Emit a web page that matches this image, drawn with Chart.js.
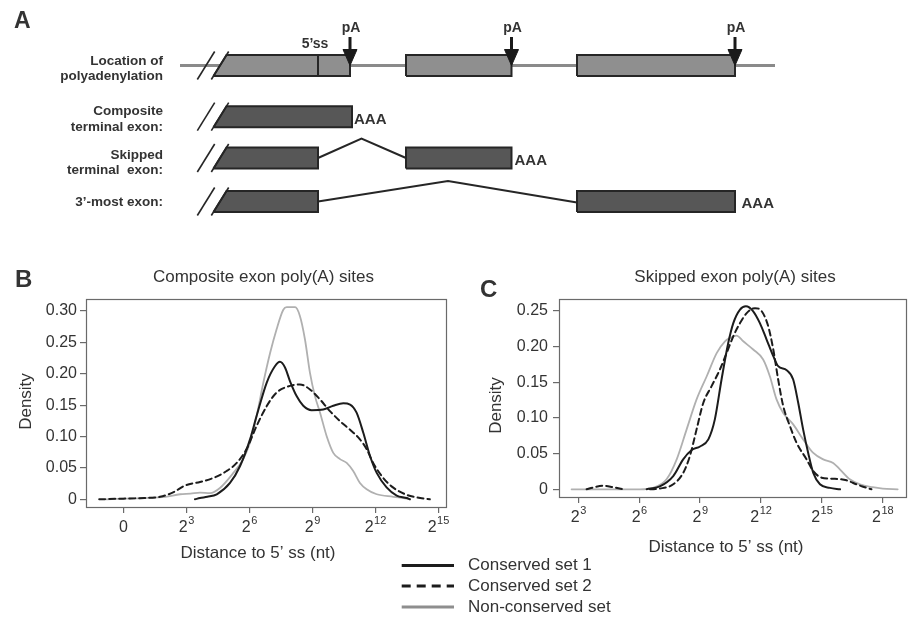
<!DOCTYPE html>
<html><head><meta charset="utf-8">
<script src="https://cdn.jsdelivr.net/npm/chart.js@4.4.1/dist/chart.umd.min.js"></script>
<style>
html,body{margin:0;padding:0;background:#fff;}
#wrap{position:relative;width:914px;height:617px;overflow:hidden;background:#fff;}
canvas{position:absolute;}
</style></head><body>
<div id="wrap">
<canvas id="cA" width="914" height="240" style="left:0;top:0"></canvas>
<canvas id="cB" width="460" height="367" style="left:0;top:250px"></canvas>
<canvas id="cC" width="534" height="367" style="left:380px;top:250px"></canvas>
</div>
<script>
const FONT = '"Liberation Sans", Arial, Helvetica, sans-serif';
const TEXT = '#333333';
const INK = '#262626';
const AXIS = '#6a6a6a';

// ---------------- Panel A: schematic (diagram units) ----------------
const rowCenters = [65.5, 116.7, 158, 201.5];
const intronExtent = [180, 775];
const locationExons = [[213.5, 350], [406, 511.5], [577, 735]];
const compositeExons = [[213.5, 352]];
const skippedExons = [[213.5, 318], [406, 511.5]];
const mostExons = [[213.5, 318], [577, 735]];
const spliceSite5 = 318;
const pASites = [350, 511.5, 735];
const pAArrowLevels = [37, 49.5, 65.5];
const skippedJunction = [[318, 158], [361.5, 138.5], [406, 158]];
const mostJunction = [[318, 201.5], [448, 181], [577, 202.5]];
const rowLabels = [['Location of', 'polyadenylation'], ['Composite', 'terminal exon:'], ['Skipped', 'terminal  exon:'], ['3\u2019-most exon:']];
const rowLabelBaselines = [[64.5, 79.5], [114.5, 130.5], [158.5, 174], [206]];
const polyATail = [[354, 124], [514.5, 165], [741.5, 208.3]];

// ---------------- Panel B: composite exon poly(A) sites ----------------
const seriesNames = ['Conserved set 1', 'Conserved set 2', 'Non-conserved set'];
const compSet1X = [3.41, 3.65, 4.0, 4.45, 5.08, 5.56, 6.03, 6.35, 6.83, 7.22, 7.46, 7.7, 7.94, 8.26, 8.57, 8.97, 9.52, 10.0, 10.48, 10.8, 11.11, 11.43, 11.75, 12.07, 12.54, 13.02, 13.5, 13.65];
const compSet1Y = [0, 0.002, 0.004, 0.008, 0.026, 0.053, 0.095, 0.133, 0.186, 0.212, 0.219, 0.21, 0.188, 0.164, 0.149, 0.142, 0.143, 0.149, 0.153, 0.151, 0.138, 0.106, 0.069, 0.042, 0.019, 0.006, 0.002, 0];
const compSet2X = [-1.15, 0, 1.0, 1.75, 2.37, 2.94, 3.65, 4.29, 4.92, 5.4, 5.87, 6.35, 6.83, 7.3, 7.78, 8.41, 8.89, 9.37, 9.84, 10.32, 10.79, 11.27, 11.59, 11.9, 12.38, 12.86, 13.5, 13.97, 14.6];
const compSet2Y = [0, 0.001, 0.002, 0.004, 0.011, 0.022, 0.0275, 0.034, 0.045, 0.058, 0.08, 0.117, 0.1485, 0.17, 0.179, 0.183, 0.175, 0.159, 0.1405, 0.1245, 0.111, 0.0955, 0.08, 0.058, 0.034, 0.0185, 0.007, 0.003, 0];
const compNonX = [-0.8, 0, 1.0, 2.0, 2.7, 3.2, 3.65, 4.13, 4.6, 5.24, 5.71, 6.03, 6.35, 6.67, 6.99, 7.3, 7.62, 7.78, 8.18, 8.41, 8.65, 8.89, 9.13, 9.37, 9.69, 10.0, 10.32, 10.64, 10.95, 11.27, 11.59, 12.07, 12.86, 13.5, 13.65];
const compNonY = [0, 0.001, 0.002, 0.004, 0.008, 0.009, 0.0105, 0.0097, 0.018, 0.042, 0.064, 0.09, 0.133, 0.186, 0.233, 0.271, 0.302, 0.306, 0.306, 0.292, 0.255, 0.2015, 0.164, 0.138, 0.10, 0.074, 0.064, 0.058, 0.045, 0.026, 0.016, 0.008, 0.004, 0.001, 0];
const compXTicks = [0, 3, 6, 9, 12, 15];
const compXTickLabels = ['0', '2^3', '2^6', '2^9', '2^12', '2^15'];
const compYTicks = [0, 0.05, 0.10, 0.15, 0.20, 0.25, 0.30];
const compYTickLabels = ['0', '0.05', '0.10', '0.15', '0.20', '0.25', '0.30'];

// ---------------- Panel C: skipped exon poly(A) sites ----------------
const skipSet1X = [6.37, 7.02, 7.68, 8.17, 8.59, 9.0, 9.41, 9.73, 10.06, 10.39, 10.64, 10.97, 11.26, 11.62, 11.95, 12.28, 12.61, 12.85, 13.27, 13.59, 13.84, 14.08, 14.33, 14.58, 14.91, 15.4, 15.9];
const skipSet1Y = [0, 0.004, 0.0185, 0.042, 0.055, 0.06, 0.07, 0.098, 0.154, 0.205, 0.233, 0.252, 0.2566, 0.2496, 0.233, 0.21, 0.1866, 0.1726, 0.167, 0.154, 0.121, 0.084, 0.051, 0.023, 0.007, 0.002, 0];
const skipSet2X = [3.41, 3.8, 4.23, 4.7, 5.2, 5.9, 6.53, 7.02, 7.68, 8.17, 8.5, 8.83, 9.16, 9.57, 9.98, 10.31, 10.64, 10.97, 11.3, 11.71, 12.04, 12.36, 12.61, 12.85, 13.1, 13.43, 13.76, 14.25, 14.58, 14.99, 15.56, 16.22, 16.71, 17.0, 17.45];
const skipSet2Y = [0, 0.003, 0.005, 0.003, 0, null, 0, 0.001, 0.007, 0.023, 0.0466, 0.084, 0.121, 0.1446, 0.168, 0.191, 0.2146, 0.233, 0.247, 0.254, 0.2496, 0.2286, 0.196, 0.154, 0.1166, 0.0886, 0.065, 0.042, 0.0256, 0.0163, 0.0148, 0.0126, 0.007, 0.004, 0];
const skipNonX = [2.67, 4, 5, 6.04, 6.69, 7.35, 7.85, 8.34, 8.83, 9.33, 9.82, 10.23, 10.47, 10.8, 11.13, 11.62, 12.11, 12.44, 12.77, 13.1, 13.59, 14.08, 14.58, 15.07, 15.56, 15.89, 16.38, 16.88, 17.5, 18.0, 18.74];
const skipNonY = [0, 0, 0, 0, 0.002, 0.014, 0.042, 0.084, 0.126, 0.1585, 0.191, 0.2075, 0.212, 0.2155, 0.2075, 0.196, 0.182, 0.1585, 0.126, 0.107, 0.091, 0.07, 0.051, 0.042, 0.037, 0.028, 0.014, 0.007, 0.003, 0.001, 0];
const skipXTicks = [3, 6, 9, 12, 15, 18];
const skipXTickLabels = ['2^3', '2^6', '2^9', '2^12', '2^15', '2^18'];
const skipYTicks = [0, 0.05, 0.10, 0.15, 0.20, 0.25];
const skipYTickLabels = ['0', '0.05', '0.10', '0.15', '0.20', '0.25'];

// ---------------- Panel A chart ----------------
const SLANT = 0.62, H = 10.5;
function pts(arr) { return arr.map(p => ({x: p[0], y: p[1]})); }
function lineDS(points, color, width, extra) {
  return Object.assign({data: pts(points), borderColor: color, backgroundColor: color, borderWidth: width,
    pointRadius: 0, fill: false, tension: 0, clip: false, borderCapStyle: 'butt', borderJoinStyle: 'miter'}, extra || {});
}
function polyDS(points, fillColor, borderColor, width) {
  return lineDS(points, borderColor, width, {fill: 'shape', backgroundColor: fillColor});
}
const dsA = [];
dsA.push(lineDS([[intronExtent[0], rowCenters[0]], [intronExtent[1], rowCenters[0]]], '#8a8a8a', 3));
const exonRows = [locationExons, compositeExons, skippedExons, mostExons];
const exonFills = ['#8f8f8f', '#575757', '#575757', '#575757'];
exonRows.forEach((exons, r) => {
  const yc = rowCenters[r], t = yc - H, b = yc + H;
  exons.forEach((e, k) => {
    const xl = k === 0 ? e[0] + 2 * H * SLANT : e[0];
    dsA.push(polyDS([[e[0], b], [xl, t], [e[1], t], [e[1], b], [e[0], b]], exonFills[r], INK, 2));
  });
  const yb = b + 3.5, yt = t - 3.5;
  const x2b = exons[0][0] - 3.5 * SLANT, x2t = x2b + (yb - yt) * SLANT;
  dsA.push(lineDS([[x2b, yb], [x2t, yt]], INK, 1.6));
  dsA.push(lineDS([[x2b - 14, yb], [x2t - 14, yt]], INK, 1.6));
});
dsA.push(lineDS([[spliceSite5, rowCenters[0] - H], [spliceSite5, rowCenters[0] + H]], INK, 2));
dsA.push(lineDS(skippedJunction, INK, 2));
dsA.push(lineDS(mostJunction, INK, 2));
pASites.forEach(x => {
  dsA.push(lineDS([[x, pAArrowLevels[0]], [x, pAArrowLevels[1] + 1.5]], '#1a1a1a', 3));
  dsA.push(polyDS([[x - 7, pAArrowLevels[1]], [x + 7, pAArrowLevels[1]], [x, pAArrowLevels[2]], [x - 7, pAArrowLevels[1]]], '#1a1a1a', '#1a1a1a', 1));
});
dsA.forEach((d, i) => { d.order = dsA.length - i; });

const panelAText = {
  id: 'panelAText',
  afterDatasetsDraw(chart) {
    const {ctx} = chart, sx = chart.scales.x, sy = chart.scales.y;
    const X = v => sx.getPixelForValue(v), Y = v => sy.getPixelForValue(v);
    ctx.save();
    ctx.fillStyle = TEXT;
    ctx.textBaseline = 'alphabetic';
    ctx.font = 'bold 13.5px ' + FONT;
    ctx.textAlign = 'right';
    rowLabels.forEach((lines, r) => lines.forEach((s, j) => ctx.fillText(s, X(163), Y(rowLabelBaselines[r][j]))));
    ctx.textAlign = 'center';
    ctx.font = 'bold 14px ' + FONT;
    ctx.fillText('5\u2019ss', X(spliceSite5 - 3), Y(48.3));
    pASites.forEach(x => ctx.fillText('pA', X(x + 1), Y(31.5)));
    ctx.textAlign = 'left';
    ctx.font = 'bold 15px ' + FONT;
    polyATail.forEach(p => ctx.fillText('AAA', X(p[0]), Y(p[1])));
    ctx.font = 'bold 23px ' + FONT;
    ctx.fillText('A', X(14), Y(28));
    ctx.restore();
  }
};

new Chart(document.getElementById('cA'), {
  type: 'line',
  data: {datasets: dsA},
  options: {
    responsive: false, animation: false, devicePixelRatio: 1,
    layout: {padding: 0},
    plugins: {legend: {display: false}, tooltip: {enabled: false}},
    elements: {point: {radius: 0}},
    scales: {
      x: {type: 'linear', min: 0, max: 914, display: false},
      y: {type: 'linear', min: 0, max: 240, reverse: true, display: false}
    }
  },
  plugins: [panelAText]
});

// ---------------- Density charts ----------------
const seriesStyles = [
  {color: '#1c1c1c', width: 2, dash: [], legendColor: '#1c1c1c'},
  {color: '#1c1c1c', width: 2, dash: [6, 4], legendColor: '#1c1c1c'},
  {color: '#b0b0b0', width: 1.8, dash: [], legendColor: '#8e8e8e'}
];
function zip(xs, ys) { return xs.map((x, i) => ({x: x, y: ys[i]})); }

function drawPowerLabel(ctx, label, cx, baseline) {
  const parts = label.split('^');
  ctx.font = '16px ' + FONT;
  const wb = ctx.measureText(parts[0]).width;
  let we = 0;
  if (parts[1]) { ctx.font = '11px ' + FONT; we = ctx.measureText(parts[1]).width; }
  const x0 = cx - (wb + we) / 2;
  ctx.textAlign = 'left'; ctx.textBaseline = 'alphabetic';
  ctx.font = '16px ' + FONT; ctx.fillText(parts[0], x0, baseline);
  if (parts[1]) { ctx.font = '11px ' + FONT; ctx.fillText(parts[1], x0 + wb + 0.5, baseline - 8); }
}

function makeDecor(d) {
  return {
    id: 'rDecor',
    afterDraw(chart) {
      const {ctx, chartArea: a} = chart, sx = chart.scales.x;
      ctx.save();
      ctx.strokeStyle = AXIS; ctx.lineWidth = 1.2;
      ctx.strokeRect(a.left + 0.5, a.top + 0.5, a.width, a.height);
      ctx.fillStyle = TEXT;
      d.xTicks.forEach((v, i) => drawPowerLabel(ctx, d.xLabels[i], sx.getPixelForValue(v), a.bottom + 24.7));
      ctx.font = '17px ' + FONT; ctx.textAlign = 'center'; ctx.textBaseline = 'middle';
      ctx.fillText(d.title, d.titleX, a.top - 22);
      ctx.fillText('Distance to 5\u2019 ss (nt)', d.xTitleX, a.bottom + d.xTitleDy);
      ctx.save();
      ctx.translate(d.yTitleX, (a.top + a.bottom) / 2 + d.yTitleDy);
      ctx.rotate(-Math.PI / 2);
      ctx.fillText('Density', 0, 0);
      ctx.restore();
      ctx.font = 'bold 24px ' + FONT; ctx.textAlign = 'left'; ctx.textBaseline = 'alphabetic';
      ctx.fillText(d.letter, d.letterX, d.letterY);
      if (d.legend) {
        chart.data.datasets.forEach((ds, i) => {
          const y = d.legend.y[i];
          ctx.save();
          ctx.strokeStyle = seriesStyles[i].legendColor; ctx.lineWidth = 3;
          ctx.setLineDash(ds.borderDash && ds.borderDash.length ? [9, 6] : []);
          ctx.beginPath(); ctx.moveTo(d.legend.x0, y); ctx.lineTo(d.legend.x1, y); ctx.stroke();
          ctx.restore();
          ctx.fillStyle = TEXT; ctx.font = '17px ' + FONT; ctx.textBaseline = 'middle';
          ctx.fillText(ds.label, d.legend.tx, y);
        });
      }
      ctx.restore();
    }
  };
}

function densityChart(id, series, xr, yr, xTicks, yTicks, yLabels, lay, decor) {
  return new Chart(document.getElementById(id), {
    type: 'line',
    data: {datasets: series.map((s, i) => ({
      label: seriesNames[i], data: s,
      borderColor: seriesStyles[i].color, borderWidth: seriesStyles[i].width, borderDash: seriesStyles[i].dash,
      pointRadius: 0, fill: false, cubicInterpolationMode: 'monotone', spanGaps: false,
      borderCapStyle: 'round', borderJoinStyle: 'round'
    }))},
    options: {
      responsive: false, animation: false, devicePixelRatio: 1,
      layout: {padding: {top: lay.top, right: lay.right, left: 0, bottom: 0}},
      plugins: {legend: {display: false}, tooltip: {enabled: false}, title: {display: false}},
      elements: {point: {radius: 0}},
      scales: {
        x: {type: 'linear', min: xr[0], max: xr[1],
          afterBuildTicks: s => { s.ticks = xTicks.map(v => ({value: v})); },
          afterFit: s => { s.height = lay.xh; },
          grid: {display: true, drawOnChartArea: false, drawTicks: true, tickLength: 6, color: AXIS, tickColor: AXIS, lineWidth: 1.2},
          border: {display: false}, ticks: {display: false}},
        y: {type: 'linear', min: yr[0], max: yr[1],
          afterBuildTicks: s => { s.ticks = yTicks.map(v => ({value: v})); },
          afterFit: s => { s.width = lay.yw; },
          grid: {display: true, drawOnChartArea: false, drawTicks: true, tickLength: 6, color: AXIS, tickColor: AXIS, lineWidth: 1.2},
          border: {display: false},
          ticks: {display: true, font: {family: FONT, size: 16}, color: TEXT, padding: lay.ypad,
            callback: (v, i) => yLabels[i]}}
      }
    },
    plugins: [makeDecor(decor)]
  });
}

densityChart('cB',
  [zip(compSet1X, compSet1Y), zip(compSet2X, compSet2Y), zip(compNonX, compNonY)],
  [-1.78, 15.37], [-0.0123, 0.3191], compXTicks, compYTicks, compYTickLabels,
  {top: 49, right: 14, xh: 110, yw: 86, ypad: 3},
  {xTicks: compXTicks, xLabels: compXTickLabels, title: 'Composite exon poly(A) sites', titleX: 263.5,
   xTitleX: 258, xTitleDy: 46, yTitleX: 26, yTitleDy: -1.5, letter: 'B', letterX: 15, letterY: 36.5});

densityChart('cC',
  [zip(skipSet1X, skipSet1Y), zip(skipSet2X, skipSet2Y), zip(skipNonX, skipNonY)],
  [2.05, 19.15], [-0.0108, 0.2668], skipXTicks, skipYTicks, skipYTickLabels,
  {top: 49, right: 8, xh: 120, yw: 179, ypad: 5},
  {xTicks: skipXTicks, xLabels: skipXTickLabels, title: 'Skipped exon poly(A) sites', titleX: 355,
   xTitleX: 346, xTitleDy: 50, yTitleX: 116, yTitleDy: 7.5, letter: 'C', letterX: 100, letterY: 46.5,
   legend: {x0: 21.7, x1: 74, tx: 88, y: [315.5, 336, 357]}});
</script>
</body></html>
